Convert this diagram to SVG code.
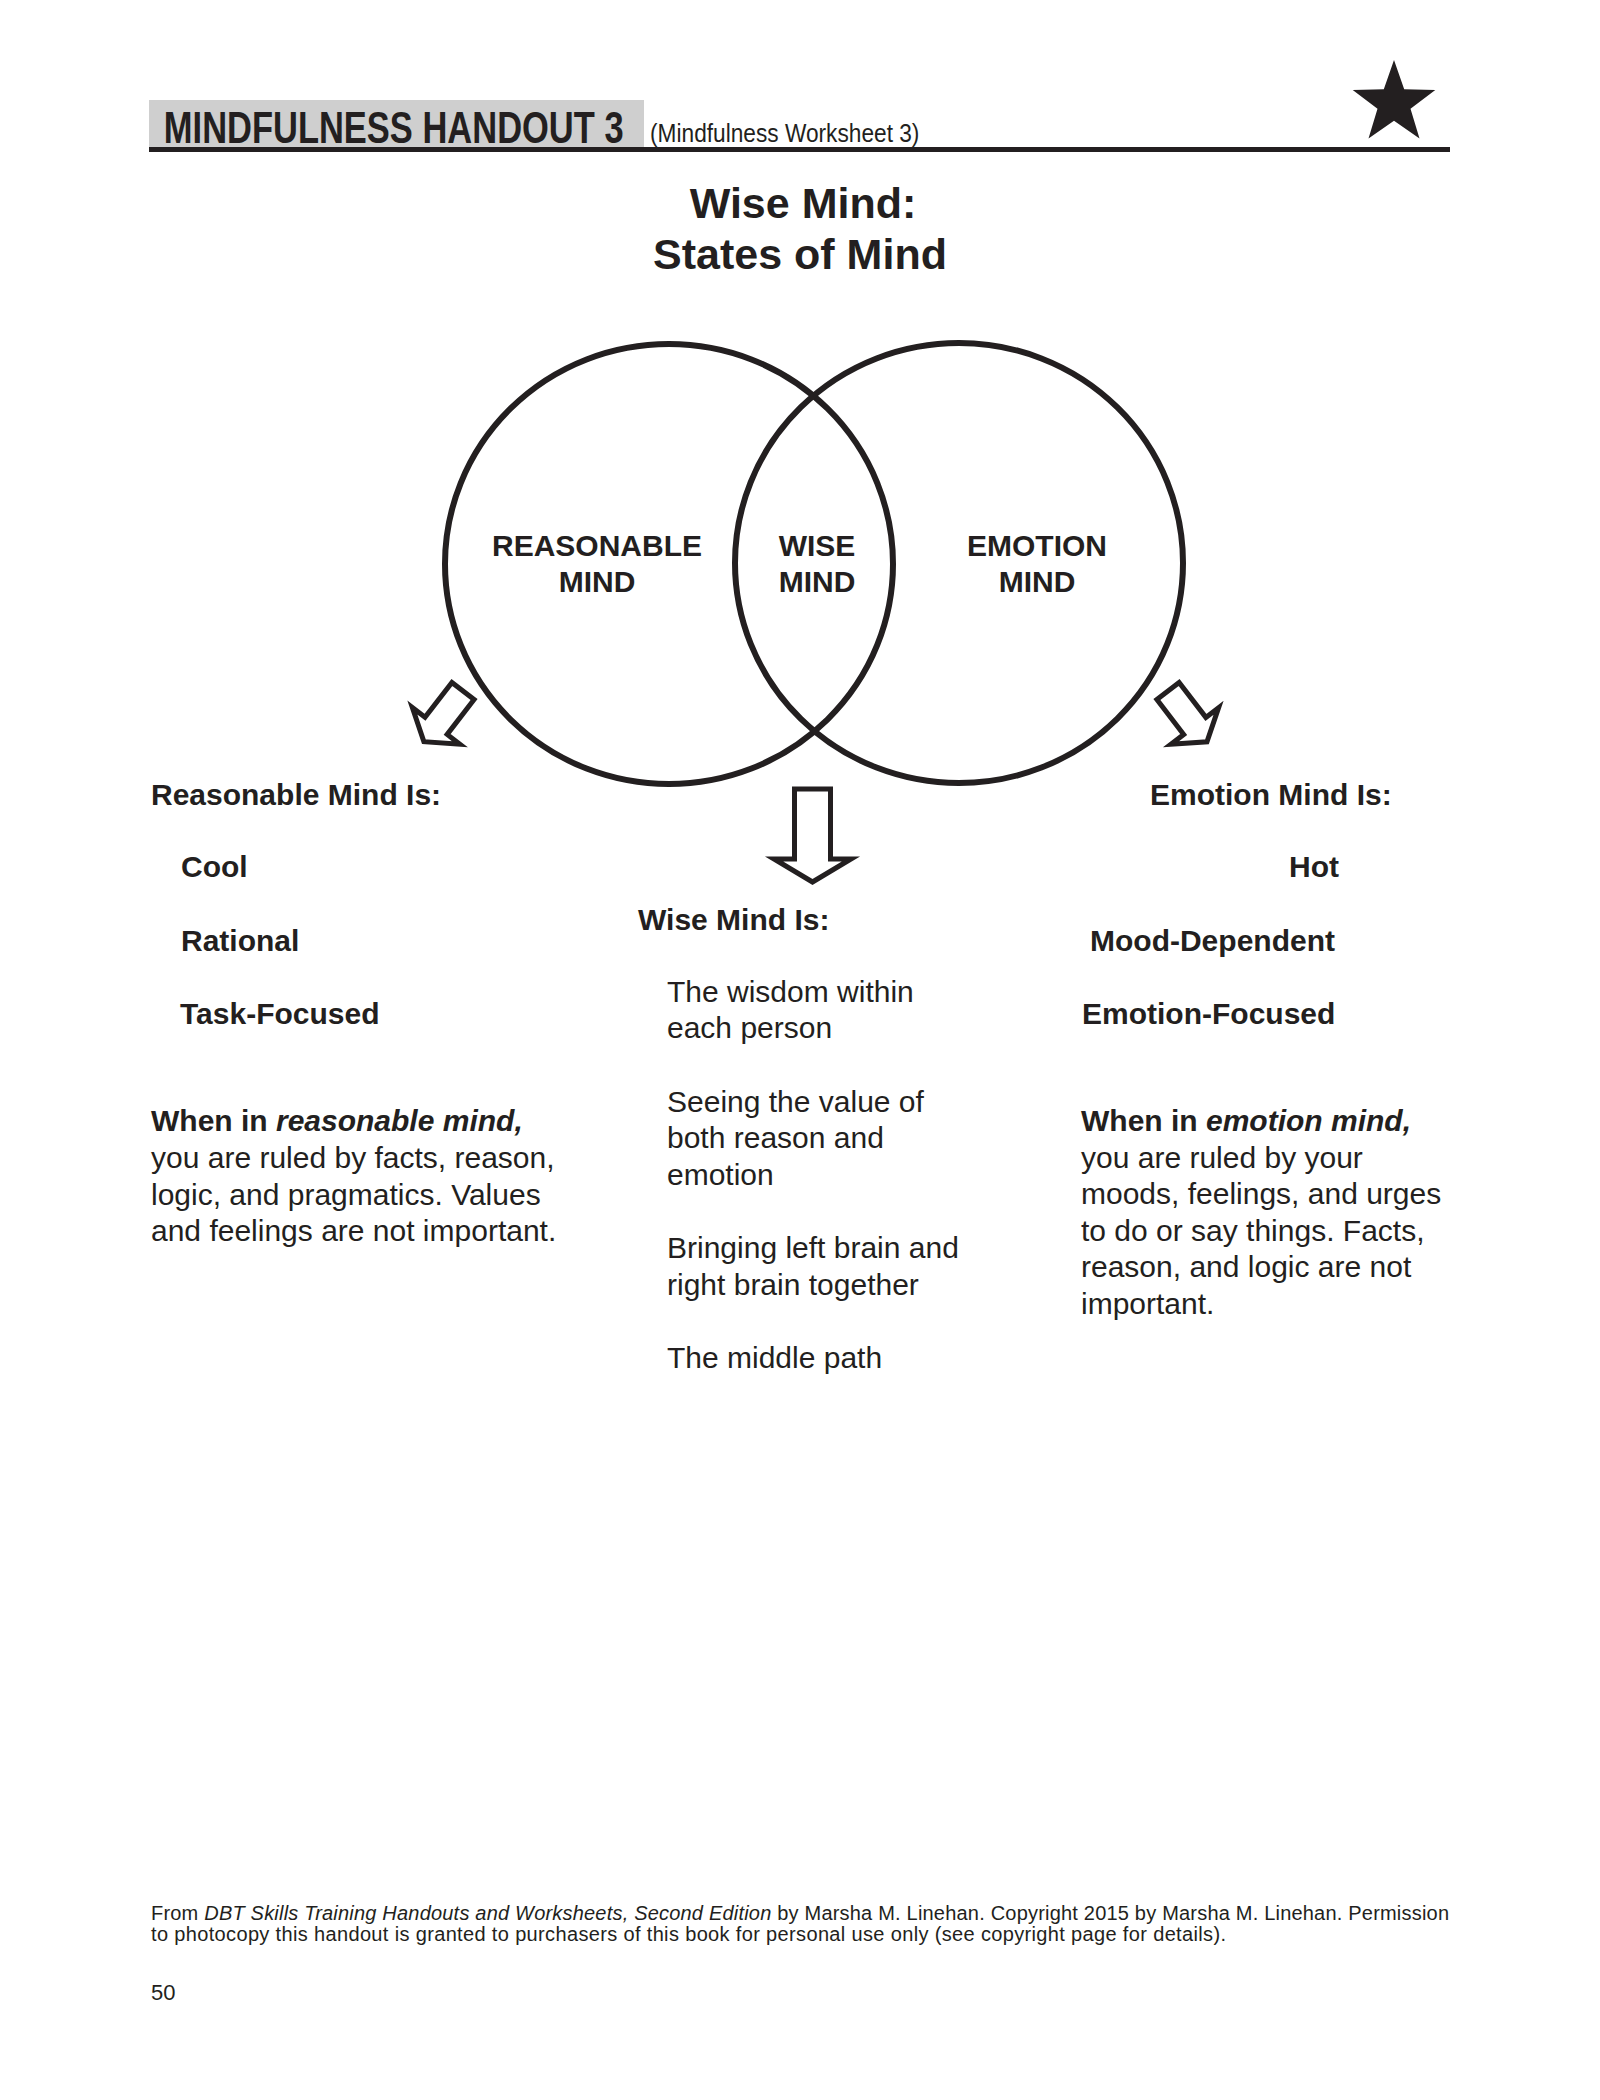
<svg xmlns="http://www.w3.org/2000/svg" width="1600" height="2100" viewBox="0 0 1600 2100">
<style>
text{font-family:"Liberation Sans",Arial,Helvetica,sans-serif;fill:#231f20}
.b{font-weight:bold}
.bi{font-weight:bold;font-style:italic}
.i{font-style:italic}
.body{font-size:30px}
.lbl{font-size:30px;font-weight:bold;text-anchor:middle}
.circ{fill:none;stroke:#231f20;stroke-width:6}
.arrow{fill:#fff;stroke:#231f20;stroke-width:5;stroke-linejoin:miter}
.foot{font-size:20px}
</style>
<rect width="1600" height="2100" fill="#fff"/>
<g id="header">
<rect x="149" y="100" width="495" height="48" fill="#cfcfcf"/>
<rect x="149" y="147" width="1301" height="5" fill="#231f20"/>
<text x="209" y="143" class="b" font-size="44" transform="scale(0.784,1)">MINDFULNESS HANDOUT 3</text>
<text x="744.6" y="142" font-size="26" transform="scale(0.873,1)">(Mindfulness Worksheet 3)</text>
<polygon points="1394,60 1404.2,89.3 1435.3,89.9 1410.5,108.7 1419.5,138.5 1394,120.7 1368.5,138.5 1377.5,108.7 1352.7,89.9 1383.8,89.3" fill="#231f20"/>
</g>
<g id="title">
<text x="803" y="218" class="b" font-size="43" text-anchor="middle">Wise Mind:</text>
<text x="800" y="269" class="b" font-size="43" text-anchor="middle">States of Mind</text>
</g>
<g id="reasonable-mind">
<ellipse cx="669" cy="564" rx="224" ry="220" class="circ"/>
<text x="597" y="556" class="lbl">REASONABLE</text>
<text x="597" y="592" class="lbl">MIND</text>
</g>
<g id="emotion-mind">
<ellipse cx="959" cy="563" rx="224" ry="220" class="circ"/>
<text x="1037" y="556" class="lbl">EMOTION</text>
<text x="1037" y="592" class="lbl">MIND</text>
</g>
<g id="wise-mind">
<text x="817" y="556" class="lbl">WISE</text>
<text x="817" y="592" class="lbl">MIND</text>
</g>
<g id="connectors">
<path class="arrow" transform="translate(463,691) rotate(37.7)" d="M-14,0 L14,0 L14,44 L30,44 L0,64 L-30,44 L-14,44 Z"/>
<path class="arrow" d="M794.5,789 L830.5,789 L830.5,859 L851,859 L812.5,882 L774,859 L794.5,859 Z"/>
<path class="arrow" transform="translate(1168,691) rotate(-37.5)" d="M-14,0 L14,0 L14,44 L30,44 L0,64 L-30,44 L-14,44 Z"/>
</g>
<g id="reasonable-text">
<text x="151" y="805" class="b body">Reasonable Mind Is:</text>
<text x="181" y="877" class="b body">Cool</text>
<text x="181" y="951" class="b body">Rational</text>
<text x="180" y="1024" class="b body">Task-Focused</text>
<text x="151" y="1131" class="body"><tspan class="b">When in </tspan><tspan class="bi">reasonable mind,</tspan></text>
<text x="151" y="1168" class="body">you are ruled by facts, reason,</text>
<text x="151" y="1205" class="body">logic, and pragmatics. Values</text>
<text x="151" y="1241" class="body">and feelings are not important.</text>
</g>
<g id="wise-text">
<text x="638" y="930" class="b body">Wise Mind Is:</text>
<text x="667" y="1002" class="body">The wisdom within</text>
<text x="667" y="1038" class="body">each person</text>
<text x="667" y="1112" class="body">Seeing the value of</text>
<text x="667" y="1148" class="body">both reason and</text>
<text x="667" y="1185" class="body">emotion</text>
<text x="667" y="1258" class="body">Bringing left brain and</text>
<text x="667" y="1295" class="body">right brain together</text>
<text x="667" y="1368" class="body">The middle path</text>
</g>
<g id="emotion-text">
<text x="1150" y="805" class="b body">Emotion Mind Is:</text>
<text x="1289" y="877" class="b body">Hot</text>
<text x="1090" y="951" class="b body">Mood-Dependent</text>
<text x="1082" y="1024" class="b body">Emotion-Focused</text>
<text x="1081" y="1131" class="body"><tspan class="b">When in </tspan><tspan class="bi">emotion mind,</tspan></text>
<text x="1081" y="1168" class="body">you are ruled by your</text>
<text x="1081" y="1204" class="body">moods, feelings, and urges</text>
<text x="1081" y="1241" class="body">to do or say things. Facts,</text>
<text x="1081" y="1277" class="body">reason, and logic are not</text>
<text x="1081" y="1314" class="body">important.</text>
</g>
<g id="footer">
<text x="151" y="1920" class="foot" textLength="1298" lengthAdjust="spacing">From <tspan class="i">DBT Skills Training Handouts and Worksheets, Second Edition</tspan> by Marsha M. Linehan. Copyright 2015 by Marsha M. Linehan. Permission</text>
<text x="151" y="1941" class="foot" textLength="1075" lengthAdjust="spacing">to photocopy this handout is granted to purchasers of this book for personal use only (see copyright page for details).</text>
<text x="151" y="2000" font-size="22">50</text>
</g>
</svg>
